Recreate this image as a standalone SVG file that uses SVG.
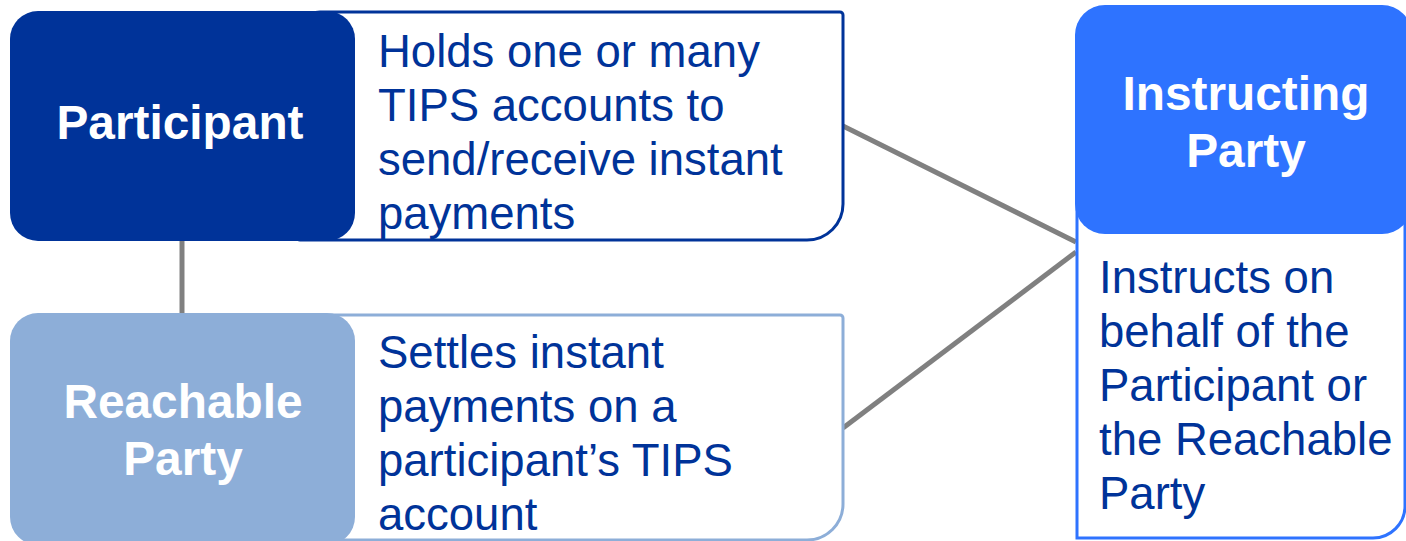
<svg xmlns="http://www.w3.org/2000/svg" width="1406" height="541" viewBox="0 0 1406 541">
<style>
.lbl{font-family:"Liberation Sans",Arial,sans-serif;font-weight:bold;font-size:47.8px;fill:#ffffff;text-anchor:middle}
.desc{font-family:"Liberation Sans",Arial,sans-serif;font-size:45.5px;fill:#003399}
.conn{stroke:#808080;stroke-width:5;fill:none}
</style>
<rect width="1406" height="541" fill="#ffffff"/>
<g id="connectors">
<line class="conn" x1="182" y1="240" x2="182" y2="315"/>
<line class="conn" x1="843" y1="126" x2="1076" y2="242"/>
<line class="conn" x1="843" y1="428" x2="1076" y2="252"/>
</g>
<g id="participant">
<path d="M320,12 H840 A3,3 0 0 1 843,15 V204 A36,36 0 0 1 807,240 H300 Q298,240 298,238 V34 A22,22 0 0 1 320,12 Z" fill="#ffffff" stroke="#003399" stroke-width="3"/>
<rect x="10" y="11" width="345" height="230" rx="28" fill="#003399"/>
<text class="lbl" x="180" y="139">Participant</text>
<text class="desc" x="378" y="67">Holds one or many</text>
<text class="desc" x="378" y="121">TIPS accounts to</text>
<text class="desc" x="378" y="175">send/receive instant</text>
<text class="desc" x="378" y="229">payments</text>
</g>
<g id="reachable">
<path d="M320,315 H840 A3,3 0 0 1 843,318 V504 A36,36 0 0 1 807,540 H300 Q298,540 298,538 V337 A22,22 0 0 1 320,315 Z" fill="#ffffff" stroke="#8DAED8" stroke-width="3"/>
<rect x="10" y="313" width="345" height="232" rx="28" fill="#8DAED8"/>
<text class="lbl" x="183" y="418">Reachable</text>
<text class="lbl" x="183" y="475">Party</text>
<text class="desc" x="378" y="368">Settles instant</text>
<text class="desc" x="378" y="422">payments on a</text>
<text class="desc" x="378" y="476">participant’s TIPS</text>
<text class="desc" x="378" y="530">account</text>
</g>
<g id="instructing">
<path d="M1077,200 H1405 V506 A32,32 0 0 1 1373,538 H1077 Z" fill="#ffffff" stroke="#2E73FF" stroke-width="3"/>
<rect x="1075" y="5" width="337" height="229" rx="30" fill="#2E73FF"/>
<text class="lbl" x="1246" y="110">Instructing</text>
<text class="lbl" x="1246" y="167">Party</text>
<text class="desc" x="1099" y="293">Instructs on</text>
<text class="desc" x="1099" y="347">behalf of the</text>
<text class="desc" x="1099" y="401">Participant or</text>
<text class="desc" x="1099" y="455">the Reachable</text>
<text class="desc" x="1099" y="509">Party</text>
</g>
</svg>
